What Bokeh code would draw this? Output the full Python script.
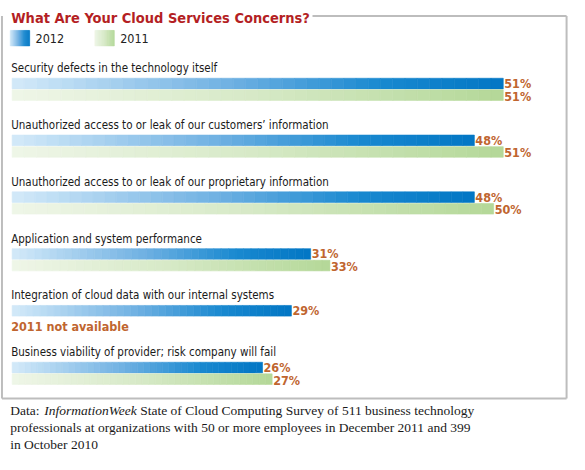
from bokeh.plotting import figure
from bokeh.models import Range1d
from bokeh.core.properties import value
from bokeh.embed import file_html
from bokeh.resources import INLINE

# data
categories = [
    "Security defects in the technology itself",
    "Unauthorized access to or leak of our customers\u2019 information",
    "Unauthorized access to or leak of our proprietary information",
    "Application and system performance",
    "Integration of cloud data with our internal systems",
    "Business viability of provider; risk company will fail",
]
v2012 = [51, 48, 48, 31, 29, 26]
v2011 = [51, 51, 50, 33, None, 27]
series_names = ["2012", "2011"]
title_text = "What Are Your Cloud Services Concerns?"
missing_note = "2011 not available"
footer_lines = [
    ["Data:", "InformationWeek", "State of Cloud Computing Survey of 511 business technology"],
    ["professionals at organizations with 50 or more employees in December 2011 and 399"],
    ["in October 2010"],
]

W, H = 569, 454
SX, SY = W / 585, H / 470          # reference -> figure pixels
NARROW = value("'DejaVu Sans Condensed', 'Liberation Sans Narrow', sans-serif")
SERIF = value("Liberation Serif")
PCT_COLOR = "#c0652f"

BLUE_STOPS = [(0.0, (212, 234, 249)), (0.45, (110, 176, 226)), (0.75, (25, 137, 208)), (1.0, (2, 118, 196))]
GREEN_STOPS = [(0.0, (239, 246, 232)), (0.5, (214, 233, 198)), (1.0, (180, 216, 152))]


def grad(stops, t):
    for (t0, c0), (t1, c1) in zip(stops[:-1], stops[1:]):
        if t <= t1:
            f = (t - t0) / (t1 - t0)
            return "#%02x%02x%02x" % tuple(int(round(a + (b - a) * f)) for a, b in zip(c0, c1))
    return "#%02x%02x%02x" % stops[-1][1]


p = figure(width=W, height=H, output_backend="svg", toolbar_location=None,
           x_range=Range1d(0, W), y_range=Range1d(H, 0),
           x_axis_location=None, y_axis_location=None, min_border=0)
p.grid.visible = False
p.outline_line_color = None
p.background_fill_color = "white"

# percent scale for the bars: 0% at x=12, ~9.9 px per point (reference pixels)
px_per_pct = 9.9 * SX
x0 = 12 * SX
pct_start = -x0 / px_per_pct
p.extra_x_ranges = {"pct": Range1d(pct_start, pct_start + W / px_per_pct)}

# frame box
bx0, bx1, by0, by1 = 1.5 * SX, 582 * SX, 16 * SY, 412 * SY
p.segment(x0=[312, bx0, bx1, bx0], y0=[by0, by0, by0, by1],
          x1=[bx1, bx0, bx1, bx1], y1=[by0, by1, by1, by1],
          line_color="#bdbdbd", line_width=2)

# title
p.text(x=[11 * SX], y=[18 * SY], text=[title_text], text_font=NARROW, text_font_style="bold",
       text_font_size="14.5px", text_color="#b41f24", text_baseline="alphabetic")

N = 40


def gradient_bar(y, v, stops, h):
    lefts = [v * k / N for k in range(N)]
    rights = [v * (k + 1) / N for k in range(N)]
    cols = [grad(stops, (k + 0.5) / N) for k in range(N)]
    p.hbar(y=[y] * N, left=lefts, right=rights, height=h, fill_color=cols,
           line_color=cols, line_width=0.6, x_range_name="pct")


# legend swatches
for name, stops, lx in zip(series_names, [BLUE_STOPS, GREEN_STOPS], [10, 97]):
    sw = [grad(stops, (k + 0.5) / 20) for k in range(20)]
    p.quad(left=[(lx + 20 * k / 20) * SX for k in range(20)],
           right=[(lx + 20 * (k + 1) / 20) * SX for k in range(20)],
           top=[31 * SY] * 20, bottom=[47 * SY] * 20, fill_color=sw, line_color=sw, line_width=0.6)
    p.text(x=[(lx + 26) * SX], y=[39.5 * SY], text=[name], text_font=NARROW,
           text_font_size="12.5px", text_color="#222222", text_baseline="middle")

bar_h = 11 * SY
PCT_FS = "12.5px"
for i, cat in enumerate(categories):
    ylab = (70 + 58.8 * i) * SY
    yb = (86 + 58.8 * i) * SY
    yg = (98 + 58.8 * i) * SY
    p.text(x=[11 * SX], y=[ylab], text=[cat], text_font=NARROW, text_font_size="11.5px",
           text_color="#1a1a1a", text_baseline="middle")
    gradient_bar(yb, v2012[i], BLUE_STOPS, bar_h)
    p.text(x=[v2012[i]], y=[yb], text=["%d%%" % v2012[i]], x_offset=1, x_range_name="pct",
           text_font=NARROW, text_font_style="bold", text_font_size=PCT_FS,
           text_color=PCT_COLOR, text_baseline="middle")
    if v2011[i] is None:
        p.text(x=[11 * SX], y=[yg + 4 * SY], text=[missing_note], text_font=NARROW,
               text_font_style="bold", text_font_size=PCT_FS, text_color=PCT_COLOR,
               text_baseline="middle")
    else:
        gradient_bar(yg, v2011[i], GREEN_STOPS, bar_h)
        p.text(x=[v2011[i]], y=[yg + 1], text=["%d%%" % v2011[i]], x_offset=1, x_range_name="pct",
               text_font=NARROW, text_font_style="bold", text_font_size=PCT_FS,
               text_color=PCT_COLOR, text_baseline="middle")

# footer
fy = [410, 427, 444]
fs = "13.5px"
line1 = footer_lines[0]
fx = 10 * SX
p.text(x=[fx], y=[fy[0]], text=[line1[0]], text_font=SERIF, text_font_size=fs,
       text_color="#1a1a1a", text_baseline="alphabetic")
p.text(x=[fx + 34], y=[fy[0]], text=[line1[1]], text_font=SERIF, text_font_style="italic",
       text_font_size=fs, text_color="#1a1a1a", text_baseline="alphabetic")
p.text(x=[fx + 34 + 96], y=[fy[0]], text=[line1[2]], text_font=SERIF, text_font_size=fs,
       text_color="#1a1a1a", text_baseline="alphabetic")
for k in (1, 2):
    p.text(x=[fx], y=[fy[k]], text=footer_lines[k], text_font=SERIF, text_font_size=fs,
           text_color="#1a1a1a", text_baseline="alphabetic")

open("out.html", "w").write(file_html(p, INLINE))
